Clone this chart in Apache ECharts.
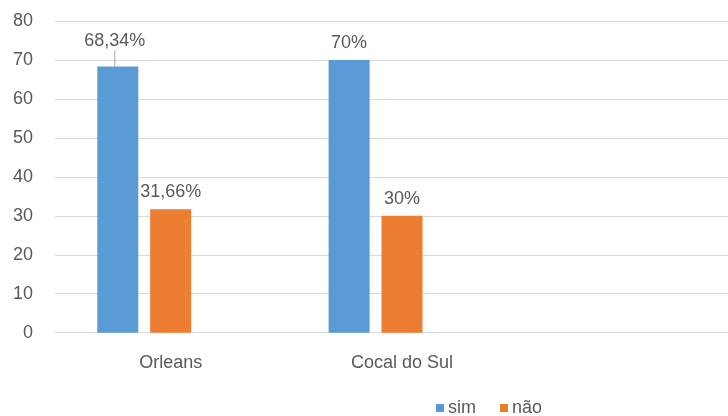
<!DOCTYPE html>
<html>
<head>
<meta charset="utf-8">
<script src="https://cdn.jsdelivr.net/npm/echarts@6/dist/echarts.min.js"></script>
<style>
  html, body { margin: 0; padding: 0; background: #ffffff; overflow: hidden; }
  #wrap { width: 728px; height: 416px; overflow: hidden; }
  /* the plot runs past the right edge, so the canvas is wider than the page */
  #chart { width: 749px; height: 416px; }
</style>
</head>
<body>
<div id="wrap"><div id="chart"></div></div>
<script>
// Municipalities (the last band is left empty)
const categories = ['Orleans', 'Cocal do Sul', ''];
// Share of answers, in percent
const simValues = [68.34, 70, null];
const naoValues = [31.66, 30, null];
// Reserved third slot in each group, no answers recorded
const outroValues = [null, null, null];
const yTicks = { min: 0, max: 80, interval: 10 };

const textColor = '#595959';
const font = 'Liberation Sans, Arial, sans-serif';

const pct = (v) => String(v).replace('.', ',') + '%';

const labelStyle = {
  show: true,
  position: 'top',
  distance: 8,
  fontSize: 18,
  fontFamily: font,
  color: textColor,
  formatter: (p) => pct(p.value)
};

// the first "sim" label is lifted above the bar and tied to it with a leader line
const simData = simValues.map((v, i) => (i === 0 ? { value: v, labelLine: { show: true } } : v));

const chart = echarts.init(document.getElementById('chart'), null, { renderer: 'canvas' });

chart.setOption({
  animation: false,
  backgroundColor: '#ffffff',
  textStyle: { fontFamily: font },
  grid: { left: 55, top: 21, height: 311.7, right: 0 },
  legend: {
    data: ['sim', 'não'],
    left: 431,
    top: 394,
    icon: 'rect',
    itemWidth: 8,
    itemHeight: 8,
    itemGap: 24,
    textStyle: { fontSize: 18, color: textColor, fontFamily: font, padding: [0, 0, 0, -1] }
  },
  xAxis: {
    type: 'category',
    data: categories,
    axisLine: { show: true, lineStyle: { color: '#d9d9d9', width: 1 } },
    axisTick: { show: false },
    axisLabel: { fontSize: 18, color: textColor, margin: 21, fontFamily: font }
  },
  yAxis: {
    type: 'value',
    min: yTicks.min,
    max: yTicks.max,
    interval: yTicks.interval,
    axisLine: { show: false },
    axisTick: { show: false },
    splitLine: { lineStyle: { color: '#d9d9d9', width: 1 } },
    axisLabel: { fontSize: 18, color: textColor, margin: 22, fontFamily: font }
  },
  series: [
    {
      name: 'sim',
      type: 'bar',
      data: simData,
      barWidth: 41,
      barGap: '29%',
      itemStyle: { color: '#5B9BD5' },
      label: labelStyle,
      labelLayout: (p) => (p.dataIndex === 0 ? { dx: -3, dy: -8 } : {}),
      labelLine: { show: false, length2: 0, lineStyle: { color: '#a6a6a6', width: 1 } }
    },
    {
      name: 'não',
      type: 'bar',
      data: naoValues,
      barWidth: 41,
      barGap: '29%',
      itemStyle: { color: '#ED7D31' },
      label: labelStyle
    },
    {
      name: 'outro',
      type: 'bar',
      data: outroValues,
      barWidth: 41,
      barGap: '29%',
      itemStyle: { color: '#A5A5A5' }
    }
  ]
});
</script>
</body>
</html>
